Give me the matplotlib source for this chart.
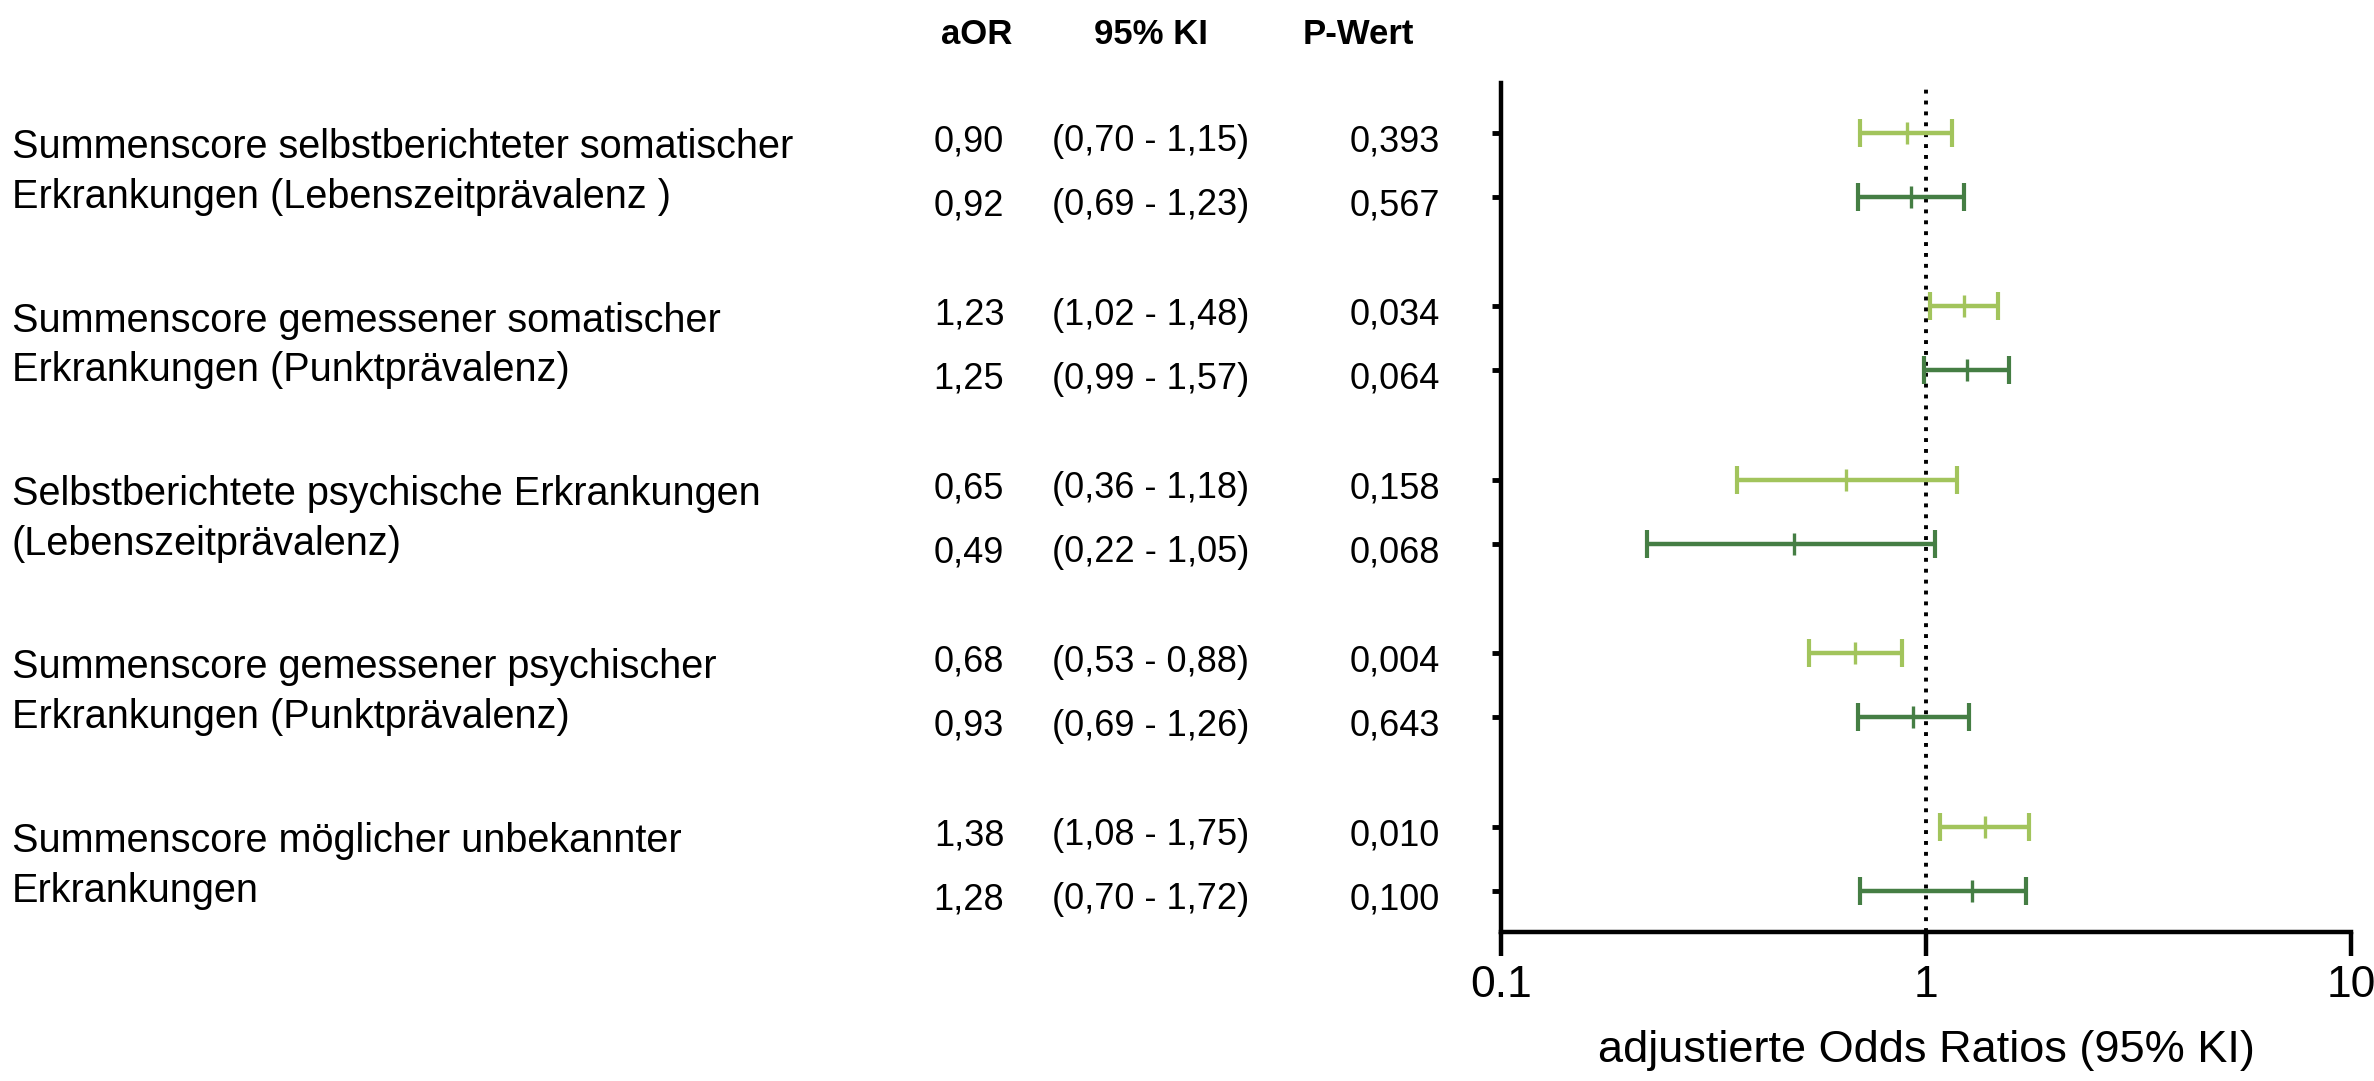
import numpy as np
import matplotlib
matplotlib.use("Agg")
import matplotlib.pyplot as plt
from matplotlib.transforms import blended_transform_factory

plt.rcParams['font.family'] = ['Liberation Sans', 'DejaVu Sans']

# labels for each block (two lines each)
labels = [
    ["Summenscore selbstberichteter somatischer", "Erkrankungen (Lebenszeitprävalenz )"],
    ["Summenscore gemessener somatischer", "Erkrankungen (Punktprävalenz)"],
    ["Selbstberichtete psychische Erkrankungen", "(Lebenszeitprävalenz)"],
    ["Summenscore gemessener psychischer", "Erkrankungen (Punktprävalenz)"],
    ["Summenscore möglicher unbekannter", "Erkrankungen"],
]

# two rows per block: light green first, dark green second
aor = [0.90, 0.92, 1.23, 1.25, 0.65, 0.49, 0.68, 0.93, 1.38, 1.28]
ci_low = [0.70, 0.69, 1.02, 0.99, 0.36, 0.22, 0.53, 0.69, 1.08, 0.70]
ci_high = [1.15, 1.23, 1.48, 1.57, 1.18, 1.05, 0.88, 1.26, 1.75, 1.72]
p_values = ["0,393", "0,567", "0,034", "0,064", "0,158", "0,068", "0,004", "0,643", "0,010", "0,100"]

headers = ["aOR", "95% KI", "P-Wert"]
xticks = [0.1, 1, 10]
xlabel = "adjustierte Odds Ratios (95% KI)"

light = "#a2c45c"
dark = "#457e44"

W, H = 2374, 1081
fig = plt.figure(figsize=(W / 100, H / 100), dpi=100)
ax_l, ax_r, ax_b, ax_t = 1501, 2351, 932, 83
ax = fig.add_axes([ax_l / W, 1 - ax_b / H, (ax_r - ax_l) / W, (ax_b - ax_t) / H])

step = 2.71
ypos = []
for g in range(len(labels)):
    ypos += [g * step, g * step + 1]
ypos = np.array(ypos)

fmt = lambda v: f"{v:.2f}".replace(".", ",")

for i in range(len(aor)):
    c = light if i % 2 == 0 else dark
    ax.errorbar(aor[i], ypos[i],
                xerr=[[aor[i] - ci_low[i]], [ci_high[i] - aor[i]]],
                fmt='none', ecolor=c, elinewidth=3.2, capsize=10, capthick=3)
    ax.plot(aor[i], ypos[i], marker='|', ms=16, mew=2.4, color=c)

ax.axvline(1, color='black', lw=2.8, linestyle=(0, (1, 1.8)), zorder=0)

ax.set_xscale('log')
ax.set_xlim(0.1, 10)
ax.set_ylim((ax_b - 133) / 64, (ax_t - 133) / 64)
ax.set_xticks(xticks)
ax.set_xticklabels(["0.1", "1", "10"])
ax.minorticks_off()
ax.set_yticks(ypos)
ax.set_yticklabels([])
ax.tick_params(axis='x', length=17, width=3.2, labelsize=32, pad=7)
ax.tick_params(axis='y', length=6.5, width=3.5)
for s in ['top', 'right']:
    ax.spines[s].set_visible(False)
for s in ['left', 'bottom']:
    ax.spines[s].set_linewidth(3.2)
ax.set_xlabel(xlabel, fontsize=32.5)
ax.xaxis.set_label_coords(0.5, -0.116)

tr = blended_transform_factory(fig.transFigure, ax.transData)
for g, lines in enumerate(labels):
    y1 = g * step + 1
    ax.text(12 / W, y1 - 0.78, lines[0], transform=tr, fontsize=28.5, va='center', ha='left')
    ax.text(12 / W, y1, lines[1], transform=tr, fontsize=28.5, va='center', ha='left')

for i in range(len(aor)):
    y = ypos[i] + 0.14
    ax.text(969 / W, y, fmt(aor[i]), transform=tr, fontsize=26, va='center', ha='center')
    ax.text(1151 / W, y, f"({fmt(ci_low[i])} - {fmt(ci_high[i])})", transform=tr,
            fontsize=26, va='center', ha='center')
    ax.text(1440 / W, y, p_values[i], transform=tr, fontsize=26, va='center', ha='right')

for x, h in zip([977, 1151, 1358], headers):
    fig.text(x / W, 1 - 35 / H, h, fontsize=25, fontweight='bold', ha='center', va='center')

fig.savefig("out.png", dpi=100, facecolor='white')
